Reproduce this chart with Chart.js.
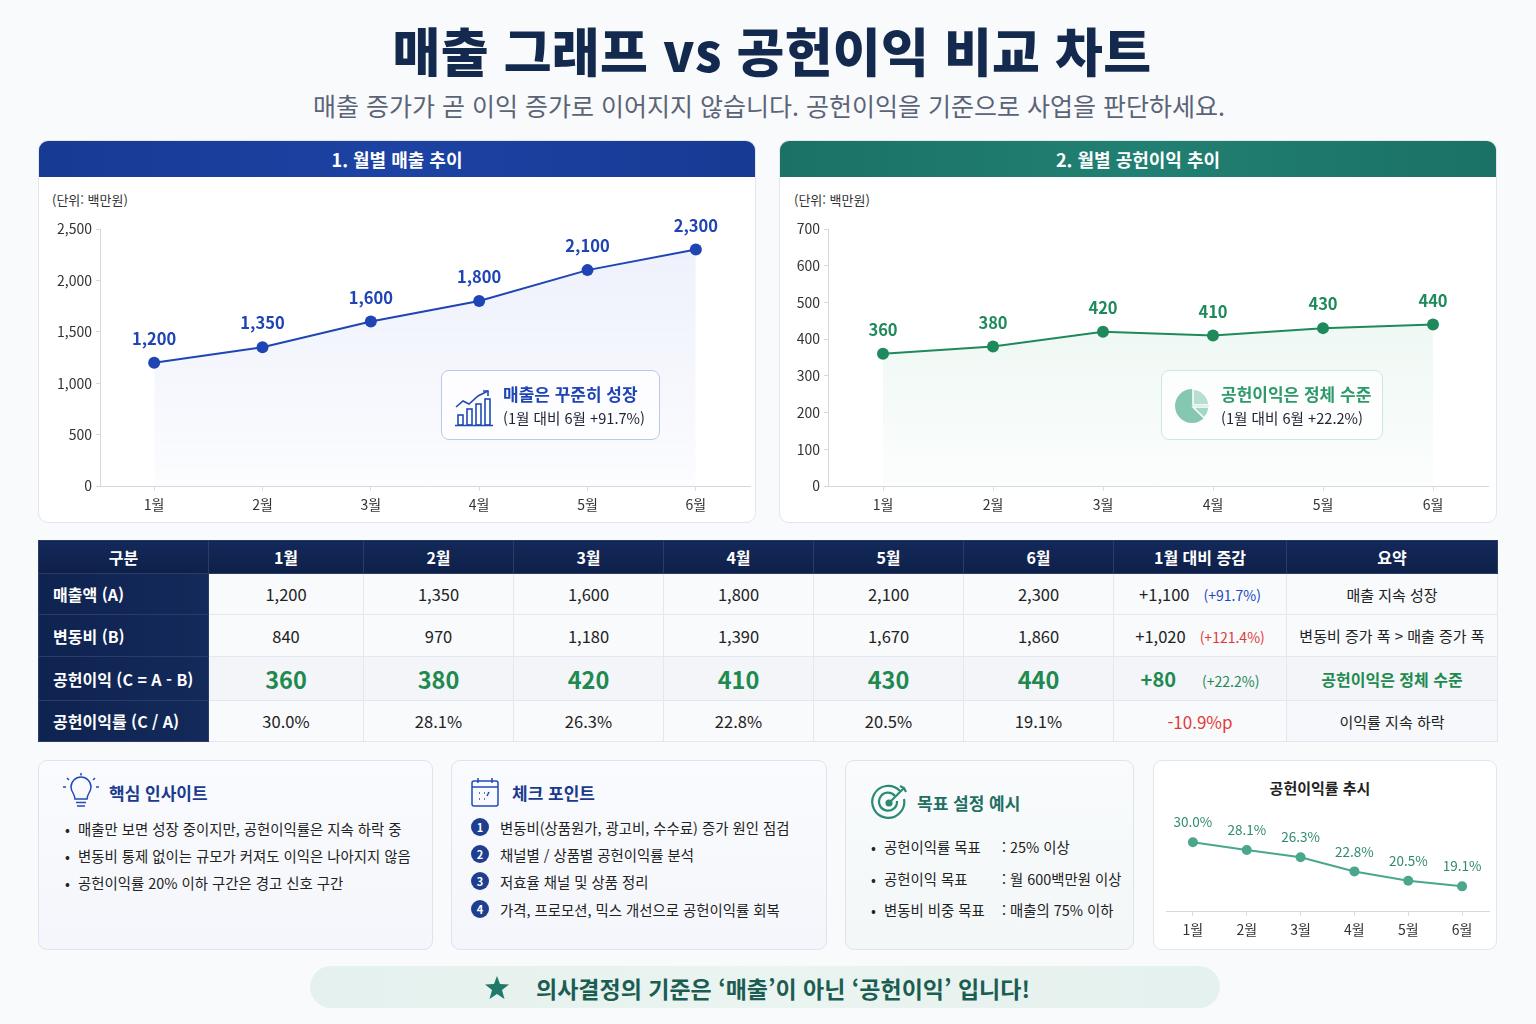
<!DOCTYPE html>
<html lang="ko">
<head>
<meta charset="utf-8">
<script src="https://cdn.jsdelivr.net/npm/chart.js@4.4.1/dist/chart.umd.min.js"></script>
<style>
  * { box-sizing: border-box; margin: 0; padding: 0; }
  body { width: 1536px; height: 1024px; background: #f9fafc; font-family: "Noto Sans CJK KR", "Noto Sans", sans-serif; color: #222; position: relative; overflow: hidden; }
  .abs { position: absolute; }
  h1 { position: absolute; left: 0; width: 1544px; top: 12px; text-align: center; font-size: 52px; font-weight: 900; color: #132a4e; letter-spacing: 0.3px; }
  .sub { position: absolute; left: 0; width: 1538px; top: 87px; text-align: center; font-size: 25px; color: #5b6477; }
  .card { position: absolute; background: #fff; border: 1px solid #e2e6ee; border-radius: 10px; overflow: hidden; }
  .card .head { height: 36px; line-height: 36px; text-align: center; color: #fff; font-weight: 700; font-size: 18px; }
  .unit { position: absolute; font-size: 13px; color: #333; }
  .note { position: absolute; border-radius: 8px; background: rgba(255,255,255,0.75); }
  .note .t { position: absolute; font-size: 17px; font-weight: 700; white-space: nowrap; }
  .note .s { position: absolute; font-size: 14.6px; color: #223; white-space: nowrap; }
  table { position: absolute; left: 38px; top: 540px; width: 1459px; border-collapse: collapse; table-layout: fixed; font-size: 16.5px; }
  table td, table th { border: 1px solid #e3e7ef; text-align: center; }
  table th { background: linear-gradient(#14295a, #0e2049); color: #fff; font-weight: 700; font-size: 16px; height: 33px; border-color: #2a3c68; }
  table td.rh { background: linear-gradient(90deg, #0f2350, #132a5a); color: #fff; font-weight: 700; text-align: left; padding-left: 14px; font-size: 16px; border-color: #2a3c68; }
  table tr.profit td { background: #f3f5f9; }
  table tr.profit td.rh { background: linear-gradient(90deg, #0f2350, #132a5a); }
  .green { color: #1e8a50; font-weight: 700; font-size: 23.5px; }
  .pct { font-size: 14px; margin-left: 14px; }
  .box { position: absolute; top: 760px; height: 190px; border: 1px solid #dde3f0; border-radius: 9px; background: linear-gradient(#fafbfe, #f4f6fb); }
  .box .ttl { position: absolute; font-size: 17px; font-weight: 700; white-space: nowrap; }
  .line { position: absolute; font-size: 14.4px; color: #222; white-space: nowrap; }
  .num { position: absolute; width: 18px; height: 18px; border-radius: 50%; background: #1e3f8f; color: #fff; font-size: 11px; font-weight: 700; text-align: center; line-height: 18px; }
  .banner { position: absolute; left: 310px; top: 966px; width: 910px; height: 42px; border-radius: 21px; background: linear-gradient(90deg, #e5f1ee, #eaf4f1, #e5f1ee); }
  .banner .txt { position: absolute; left: 226px; top: 5px; font-size: 23px; font-weight: 700; color: #1b5d52; white-space: nowrap; }
</style>
</head>
<body>
<h1>매출 그래프 vs 공헌이익 비교 차트</h1>
<div class="sub">매출 증가가 곧 이익 증가로 이어지지 않습니다. 공헌이익을 기준으로 사업을 판단하세요.</div>

<div class="card" style="left:38px;top:140px;width:718px;height:383px;">
  <div class="head" style="background:linear-gradient(90deg,#173a94,#1c42a3,#173a94);">1. 월별 매출 추이</div>
</div>
<div class="unit" style="left:52px;top:190px;">(단위: 백만원)</div>
<canvas id="salesChart" class="abs" style="left:40px;top:212px;width:716px;height:308px;"></canvas>
<div class="note" style="left:441px;top:370px;width:219px;height:70px;border:1px solid #b9c8ec;">
  <svg class="abs" style="left:12px;top:18px;" width="40" height="38" viewBox="0 0 40 38">
    <g fill="none" stroke="#2249b8" stroke-width="1.6">
      <polyline points="2,18 9,12 15,15 24,7 34,2"/><polyline points="29,2 34,2 34,7"/>
      <rect x="4" y="26" width="5" height="10"/><rect x="13" y="20" width="5" height="16"/>
      <rect x="22" y="15" width="5" height="21"/><rect x="31" y="10" width="5" height="26"/>
      <line x1="1" y1="36.5" x2="39" y2="36.5"/>
    </g>
  </svg>
  <div class="t" style="left:61px;top:10px;color:#1f45b5;">매출은 꾸준히 성장</div>
  <div class="s" style="left:61px;top:36px;">(1월 대비 6월 +91.7%)</div>
</div>

<div class="card" style="left:779px;top:140px;width:718px;height:383px;">
  <div class="head" style="background:linear-gradient(90deg,#1b7165,#218073,#1b7165);">2. 월별 공헌이익 추이</div>
</div>
<div class="unit" style="left:794px;top:190px;">(단위: 백만원)</div>
<canvas id="profitChart" class="abs" style="left:781px;top:212px;width:715px;height:308px;"></canvas>
<div class="note" style="left:1161px;top:370px;width:222px;height:70px;border:1px solid #cde6de;">
  <svg class="abs" style="left:12px;top:17px;" width="36" height="36" viewBox="0 0 36 36">
    <circle cx="18" cy="18" r="17" fill="#86c7b2"/>
    <path d="M19 17 L19 1 A17 17 0 0 1 35 17 Z" fill="#b6dfd0" stroke="#fff" stroke-width="1.5"/>
    <path d="M19 19 L35 19 A17 17 0 0 1 30 30 Z" fill="#a3d6c4" stroke="#fff" stroke-width="1.5"/>
  </svg>
  <div class="t" style="left:59px;top:10px;color:#2e9a6a;">공헌이익은 정체 수준</div>
  <div class="s" style="left:59px;top:36px;">(1월 대비 6월 +22.2%)</div>
</div>

<table id="dataTable"></table>

<div class="box" style="left:38px;width:395px;">
  <svg class="abs" style="left:24px;top:12px;" width="36" height="38" viewBox="0 0 36 38">
    <g fill="none" stroke="#2249b8" stroke-width="1.5">
      <path d="M12 26 C12 21 8 19 8 14 A10 10 0 0 1 28 14 C28 19 24 21 24 26 Z"/>
      <line x1="13" y1="29.5" x2="23" y2="29.5"/><line x1="14" y1="33" x2="22" y2="33"/>
      <line x1="18" y1="0" x2="18" y2="2.5"/><line x1="4" y1="5" x2="6" y2="7"/><line x1="32" y1="5" x2="30" y2="7"/>
      <line x1="0" y1="14" x2="3" y2="14"/><line x1="33" y1="14" x2="36" y2="14"/>
    </g>
  </svg>
  <div class="ttl" style="left:70px;top:19px;color:#1a3a8f;">핵심 인사이트</div>
  <div class="line" style="left:26px;top:57px;">• &nbsp;매출만 보면 성장 중이지만, 공헌이익률은 지속 하락 중</div>
  <div class="line" style="left:26px;top:84px;">• &nbsp;변동비 통제 없이는 규모가 커져도 이익은 나아지지 않음</div>
  <div class="line" style="left:26px;top:111px;">• &nbsp;공헌이익률 20% 이하 구간은 경고 신호 구간</div>
</div>

<div class="box" style="left:451px;width:376px;">
  <svg class="abs" style="left:19px;top:16px;" width="28" height="30" viewBox="0 0 28 30">
    <g fill="none" stroke="#2249b8" stroke-width="1.5">
      <rect x="1" y="4" width="26" height="25" rx="2"/><line x1="1" y1="10" x2="27" y2="10"/>
      <line x1="7" y1="1" x2="7" y2="6"/><line x1="21" y1="1" x2="21" y2="6"/>
      <line x1="8" y1="16" x2="9" y2="16"/><line x1="13" y1="16" x2="14" y2="16"/><line x1="18" y1="15" x2="16" y2="19"/>
      <line x1="8" y1="22" x2="9" y2="22"/><line x1="13" y1="22" x2="14" y2="22"/>
    </g>
  </svg>
  <div class="ttl" style="left:60px;top:19px;color:#1a3a8f;">체크 포인트</div>
  <div class="num" style="left:19px;top:57px;">1</div><div class="line" style="left:48px;top:56px;">변동비(상품원가, 광고비, 수수료) 증가 원인 점검</div>
  <div class="num" style="left:19px;top:84px;">2</div><div class="line" style="left:48px;top:83px;">채널별 / 상품별 공헌이익률 분석</div>
  <div class="num" style="left:19px;top:111px;">3</div><div class="line" style="left:48px;top:110px;">저효율 채널 및 상품 정리</div>
  <div class="num" style="left:19px;top:139px;">4</div><div class="line" style="left:48px;top:138px;">가격, 프로모션, 믹스 개선으로 공헌이익률 회복</div>
</div>

<div class="box" style="left:845px;width:289px;background:linear-gradient(#f9fbfc,#f3f7f8);border-color:#dce6ea;">
  <svg class="abs" style="left:24px;top:22px;" width="40" height="38" viewBox="0 0 40 38">
    <g fill="none" stroke="#2a8a74" stroke-width="2.2">
      <path d="M30 8 A16 16 0 1 0 34 16"/>
      <path d="M25 13 A9 9 0 1 0 27 18"/>
      <circle cx="19" cy="20" r="2.5" fill="#2a8a74"/>
      <line x1="19" y1="20" x2="34" y2="5"/>
      <polyline points="30,3 34,5 36,9"/>
    </g>
  </svg>
  <div class="ttl" style="left:71px;top:29px;color:#1e6f62;">목표 설정 예시</div>
  <div class="line" style="left:25px;top:75px;">• &nbsp;공헌이익률 목표</div><div class="line" style="left:156px;top:75px;">: 25% 이상</div>
  <div class="line" style="left:25px;top:107px;">• &nbsp;공헌이익 목표</div><div class="line" style="left:156px;top:107px;">: 월 600백만원 이상</div>
  <div class="line" style="left:25px;top:138px;">• &nbsp;변동비 비중 목표</div><div class="line" style="left:156px;top:138px;">: 매출의 75% 이하</div>
</div>

<div class="box" style="left:1153px;width:344px;background:#fff;border-color:#e2e6ee;">
  <div class="ttl" style="left:0;width:332px;text-align:center;top:16px;font-size:15px;color:#222;">공헌이익률 추시</div>
</div>
<canvas id="marginChart" class="abs" style="left:1158px;top:800px;width:336px;height:146px;"></canvas>

<div class="banner">
  <svg class="abs" style="left:175px;top:10px;" width="24" height="23" viewBox="0 0 24 23">
    <polygon points="12,0 15,8 24,8.5 17,14 19.5,23 12,18 4.5,23 7,14 0,8.5 9,8" fill="#1f7a6a"/>
  </svg>
  <div class="txt">의사결정의 기준은 ‘매출’이 아닌 ‘공헌이익’ 입니다!</div>
</div>

<script>
const months = ["1월", "2월", "3월", "4월", "5월", "6월"];
const sales = [1200, 1350, 1600, 1800, 2100, 2300];
const varCost = [840, 970, 1180, 1390, 1670, 1860];
const profit = [360, 380, 420, 410, 430, 440];
const margin = [30.0, 28.1, 26.3, 22.8, 20.5, 19.1];
const salesTicks = [0, 500, 1000, 1500, 2000, 2500];
const profitTicks = [0, 100, 200, 300, 400, 500, 600, 700];

const fmt = v => v.toLocaleString("en-US");

// draws the value above each point
const valueLabels = {
  id: "valueLabels",
  afterDatasetsDraw(chart, args, opts) {
    const ctx = chart.ctx;
    const meta = chart.getDatasetMeta(0);
    const data = chart.data.datasets[0].data;
    ctx.save();
    ctx.font = opts.font;
    ctx.fillStyle = opts.color;
    ctx.textAlign = "center";
    ctx.textBaseline = "middle";
    meta.data.forEach((pt, i) => {
      ctx.fillText(opts.format(data[i]), pt.x, pt.y - opts.offset);
    });
    ctx.restore();
  }
};

function fillGrad(top, bottom) {
  return ctx => {
    const area = ctx.chart.chartArea;
    if (!area) return top;
    const g = ctx.chart.ctx.createLinearGradient(0, area.top, 0, area.bottom);
    g.addColorStop(0, top);
    g.addColorStop(1, bottom);
    return g;
  };
}

function lineChart(id, values, o) {
  const ctx = document.getElementById(id).getContext("2d");
  return new Chart(ctx, {
    type: "line",
    data: {
      labels: months,
      datasets: [{
        data: values,
        borderColor: o.color,
        backgroundColor: o.color,
        borderWidth: o.lineWidth,
        pointRadius: o.radius,
        pointHoverRadius: o.radius,
        pointBackgroundColor: o.color,
        pointBorderWidth: 0,
        fill: o.fill ? { target: "origin", above: fillGrad(o.fill[0], o.fill[1]) } : false,
        tension: 0
      }]
    },
    options: {
      responsive: false,
      animation: false,
      devicePixelRatio: 1,
      layout: { padding: o.padding },
      plugins: {
        legend: { display: false },
        tooltip: { enabled: false },
        valueLabels: { font: o.labelFont, color: o.labelColor, offset: o.labelOffset, format: o.format }
      },
      scales: {
        x: {
          offset: true,
          grid: { display: true, drawOnChartArea: false, drawTicks: true, tickLength: 5, color: "#d9dde6" },
          border: { color: "#d3d8e2" },
          ticks: { color: "#333", font: { size: o.tickSize, family: "Noto Sans CJK KR" }, padding: 5 },
          afterFit: s => { s.height = o.xHeight; }
        },
        y: {
          display: o.yWidth > 0,
          min: o.min, max: o.max,
          afterBuildTicks: o.ticks ? s => { s.ticks = o.ticks.map(v => ({ value: v })); } : undefined,
          grid: { drawOnChartArea: false, drawTicks: true, tickLength: 4, color: "#d3d8e2" },
          border: { color: "#d3d8e2" },
          ticks: { color: "#333", font: { size: 14, family: "Noto Sans CJK KR" }, padding: 4, callback: v => fmt(v) },
          afterFit: s => { s.width = o.yWidth; }
        }
      }
    },
    plugins: [valueLabels]
  });
}

function sizeCanvas(id) {
  const c = document.getElementById(id);
  c.width = parseInt(c.style.width);
  c.height = parseInt(c.style.height);
}
["salesChart", "profitChart", "marginChart"].forEach(sizeCanvas);

lineChart("salesChart", sales, {
  color: "#1f45b5", lineWidth: 2, radius: 6, tickSize: 14,
  fill: ["rgba(80,110,220,0.10)", "rgba(80,110,220,0.02)"],
  padding: { top: 17, right: 6, left: 0, bottom: 0 },
  min: 0, max: 2500, ticks: salesTicks, yWidth: 60, xHeight: 34,
  labelFont: "700 16.5px 'Noto Sans CJK KR'", labelColor: "#1f45b5", labelOffset: 24, format: fmt
});

lineChart("profitChart", profit, {
  color: "#1e8a5c", lineWidth: 2, radius: 6, tickSize: 14,
  fill: ["rgba(60,170,120,0.12)", "rgba(60,170,120,0.02)"],
  padding: { top: 17, right: 8, left: 0, bottom: 0 },
  min: 0, max: 700, ticks: profitTicks, yWidth: 47, xHeight: 34,
  labelFont: "700 16.5px 'Noto Sans CJK KR'", labelColor: "#1e8a5c", labelOffset: 24, format: fmt
});

lineChart("marginChart", margin, {
  color: "#4aa68c", lineWidth: 2, radius: 5, fill: null, tickSize: 14,
  padding: { top: 10, right: 5, left: 8, bottom: 0 },
  min: 13, max: 38, ticks: null, yWidth: 0, xHeight: 35,
  labelFont: "400 13.5px 'Noto Sans CJK KR'", labelColor: "#2f8a72", labelOffset: 20, format: v => v.toFixed(1) + "%"
});

// table built from the same arrays
const colWidths = [170, 155, 150, 150, 150, 150, 150, 173, 211];
const rowHeights = [41, 42, 44, 41];
const salesDiff = sales[5] - sales[0];
const costDiff = varCost[5] - varCost[0];
const profitDiff = profit[5] - profit[0];
const pctChange = arr => "(+" + ((arr[5] - arr[0]) / arr[0] * 100).toFixed(1) + "%)";

let html = "<colgroup>" + colWidths.map(w => `<col style="width:${w}px">`).join("") + "</colgroup>";
html += "<tr><th>구분</th>" + months.map(m => `<th>${m}</th>`).join("") + "<th>1월 대비 증감</th><th>요약</th></tr>";
html += `<tr style="height:${rowHeights[0]}px"><td class="rh">매출액 (A)</td>` + sales.map(v => `<td>${fmt(v)}</td>`).join("") +
  `<td>+${fmt(salesDiff)}<span class="pct" style="color:#2248c0">${pctChange(sales)}</span></td><td style="font-size:15px">매출 지속 성장</td></tr>`;
html += `<tr style="height:${rowHeights[1]}px"><td class="rh">변동비 (B)</td>` + varCost.map(v => `<td>${fmt(v)}</td>`).join("") +
  `<td>+${fmt(costDiff)}<span class="pct" style="color:#e03a3a">${pctChange(varCost)}</span></td><td style="font-size:15px">변동비 증가 폭 &gt; 매출 증가 폭</td></tr>`;
html += `<tr class="profit" style="height:${rowHeights[2]}px"><td class="rh">공헌이익 (C = A - B)</td>` + profit.map(v => `<td class="green">${fmt(v)}</td>`).join("") +
  `<td><span class="green" style="font-size:20px">+${fmt(profitDiff)}</span><span class="pct" style="color:#1e8a50;margin-left:26px">${pctChange(profit)}</span></td><td style="color:#1e8a50;font-weight:700;font-size:16px">공헌이익은 정체 수준</td></tr>`;
html += `<tr style="height:${rowHeights[3]}px"><td class="rh">공헌이익률 (C / A)</td>` + margin.map(v => `<td>${v.toFixed(1)}%</td>`).join("") +
  `<td style="color:#e03a3a;font-size:17px">${(margin[5] - margin[0]).toFixed(1)}%p</td><td style="font-size:15px;background:#f6f8fb">이익률 지속 하락</td></tr>`;
document.getElementById("dataTable").innerHTML = html;
</script>
</body>
</html>
